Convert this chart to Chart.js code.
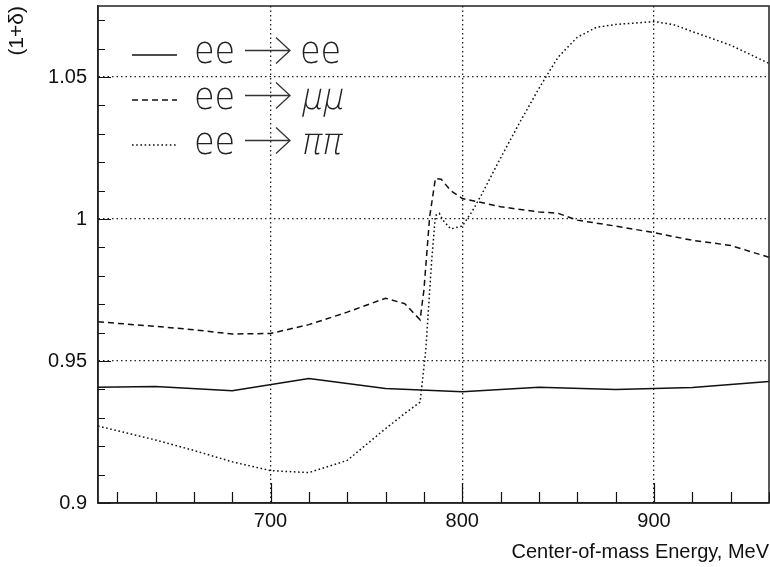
<!DOCTYPE html>
<html>
<head>
<meta charset="utf-8">
<script src="https://cdn.jsdelivr.net/npm/chart.js@4.4.1/dist/chart.umd.min.js"></script>
<style>
html,body{margin:0;padding:0;background:#fff;}
#wrap{width:770px;height:567px;}
</style>
</head>
<body>
<div id="wrap"><canvas id="c" width="770" height="567"></canvas></div>
<script>
// ---- data ----
const eeX = [610,640,680,720,760,800,840,880,920,960];
const eeY = [0.9408,0.9410,0.9395,0.9438,0.9403,0.9392,0.9408,0.9400,0.9407,0.9428];

const muX = [610,640,660,680,700,720,740,760,770,778,780,783,786,789,794,800,810,820,840,850,860,880,900,920,940,960];
const muY = [0.9638,0.9622,0.9610,0.9595,0.9597,0.9628,0.9672,0.9721,0.9702,0.9645,0.9750,1.0008,1.0143,1.0140,1.0100,1.0072,1.0058,1.0043,1.0025,1.0020,0.9996,0.9975,0.9952,0.9925,0.9907,0.9865];

const piX = [610,640,660,680,700,720,740,760,770,778,781,784,786,788,790,794,800,805,810,820,830,840,850,860,870,880,890,900,910,920,940,960];
const piY = [0.9271,0.9222,0.9185,0.9145,0.9114,0.9107,0.9150,0.9262,0.9315,0.9355,0.9540,0.9850,1.0012,1.0020,0.9995,0.9965,0.9975,1.0025,1.0085,1.0215,1.0340,1.0460,1.0570,1.0640,1.0675,1.0685,1.0690,1.0695,1.0685,1.0660,1.0612,1.0548];

const xMajor = [700,800,900];
const xTickLabels = ['700','800','900'];
const xMinor = [620,640,660,680,720,740,760,780,820,840,860,880,920,940,960];
const yMajor = [0.9,0.95,1.0,1.05];
const yTickLabels = ['0.9','0.95','1','1.05'];
const yMinor = [0.91,0.92,0.93,0.94,0.96,0.97,0.98,0.99,1.01,1.02,1.03,1.04,1.06,1.07];

const seriesNames = ['ee \u2192 ee','ee \u2192 \u03bc\u03bc','ee \u2192 \u03c0\u03c0'];
const legendLeft = ['ee','ee','ee'];
const legendRight = ['ee','\u03bc\u03bc','\u03c0\u03c0'];

const xLimits = [610, 960];
const yLimits = [0.9, 1.075];
const xTitle = 'Center-of-mass Energy, MeV';
const yTitle = '(1+\u03b4)';

const toPts = (xs, ys) => xs.map((x, i) => ({x: x, y: ys[i]}));

const dashStyles = [[], [6,4], [1.6,2.6]];

const frameAndTicks = {
  id: 'frameAndTicks',
  afterDatasetsDraw(chart) {
    const {ctx, chartArea: a, scales: {x, y}} = chart;
    ctx.save();
    ctx.strokeStyle = '#111';
    ctx.lineWidth = 1.2;
    ctx.setLineDash([]);
    ctx.beginPath();
    xMinor.forEach(v => { const px = Math.round(x.getPixelForValue(v)) + 0.5; ctx.moveTo(px, a.bottom); ctx.lineTo(px, a.bottom - 11); });
    xMajor.forEach(v => { const px = Math.round(x.getPixelForValue(v)) + 0.5; ctx.moveTo(px, a.bottom); ctx.lineTo(px, a.bottom - 20); });
    yMinor.forEach(v => { const py = Math.round(y.getPixelForValue(v)) + 0.5; ctx.moveTo(a.left, py); ctx.lineTo(a.left + 7, py); });
    yMajor.forEach(v => { const py = Math.round(y.getPixelForValue(v)) + 0.5; ctx.moveTo(a.left, py); ctx.lineTo(a.left + 13, py); });
    ctx.stroke();
    ctx.strokeStyle = '#222';
    ctx.lineWidth = 1.5;
    ctx.strokeRect(a.left, a.top, a.right - a.left, a.bottom - a.top);
    ctx.restore();
  },
  afterDraw(chart) {
    const {ctx} = chart;
    const rows = [55, 100, 145];
    const baselines = [63, 108.5, 153.5];
    ctx.save();
    for (let i = 0; i < 3; i++) {
      ctx.strokeStyle = '#111';
      ctx.lineWidth = 1.5;
      ctx.setLineDash(dashStyles[i]);
      ctx.beginPath();
      ctx.moveTo(132, rows[i]); ctx.lineTo(177, rows[i]);
      ctx.stroke();
      ctx.setLineDash([]);
      const ay = rows[i] - 4.5;
      ctx.strokeStyle = '#333';
      ctx.lineWidth = 1.3;
      ctx.beginPath();
      ctx.moveTo(245, ay); ctx.lineTo(290, ay);
      ctx.moveTo(276, ay - 13); ctx.lineTo(290, ay); ctx.lineTo(276, ay + 13);
      ctx.stroke();
      ctx.fillStyle = '#222';
      ctx.textBaseline = 'alphabetic';
      ctx.textAlign = 'left';
      ctx.font = '200 31px "DejaVu Sans"';
      ctx.save();
      ctx.translate(194, baselines[i]);
      ctx.scale(1.08, 1.2);
      ctx.fillText(legendLeft[i], 0, 0);
      ctx.restore();
      ctx.save();
      ctx.translate(300, baselines[i]);
      ctx.scale(1.08, 1.2);
      if (i > 0) ctx.transform(1, 0, -0.22, 1, 0, 0);
      ctx.fillText(legendRight[i], 0, 0);
      ctx.restore();
    }
    ctx.restore();
  }
};

new Chart(document.getElementById('c'), {
  type: 'scatter',
  data: {
    datasets: [
      {label: seriesNames[0], data: toPts(eeX, eeY)},
      {label: seriesNames[1], data: toPts(muX, muY)},
      {label: seriesNames[2], data: toPts(piX, piY)}
    ].map((d, i) => Object.assign(d, {
      showLine: true, borderColor: '#111', borderWidth: 1.5, borderDash: dashStyles[i],
      pointRadius: 0, pointHoverRadius: 0, tension: 0, fill: false
    }))
  },
  options: {
    responsive: false,
    maintainAspectRatio: false,
    devicePixelRatio: 1,
    animation: false,
    events: [],
    layout: {padding: {left: 0, top: 6, right: 1, bottom: 0}},
    plugins: {legend: {display: false}, tooltip: {enabled: false}, title: {display: false}},
    scales: {
      x: {
        type: 'linear', min: xLimits[0], max: xLimits[1],
        afterFit: s => { s.height = 64; s.paddingLeft = 0; s.paddingRight = 0; },
        afterBuildTicks: s => { s.ticks = xMajor.map(v => ({value: v})); },
        ticks: {
          padding: 6, color: '#111', font: {family: '"Liberation Sans", Arial, sans-serif', size: 20},
          maxRotation: 0, autoSkip: false,
          callback: (v) => { const k = xMajor.indexOf(v); return k >= 0 ? xTickLabels[k] : ''; }
        },
        grid: {drawTicks: false, color: '#222', lineWidth: 1.3},
        border: {display: true, color: '#222', width: 1.5, dash: [1.5, 3]},
        title: {display: true, text: xTitle, align: 'end', color: '#111',
          font: {family: '"Liberation Sans", Arial, sans-serif', size: 20}, padding: {top: 3, bottom: 3}}
      },
      y: {
        type: 'linear', min: yLimits[0], max: yLimits[1],
        afterFit: s => { s.width = 98; s.paddingTop = 0; s.paddingBottom = 0; },
        afterBuildTicks: s => { s.ticks = yMajor.map(v => ({value: v})); },
        ticks: {
          padding: 11, color: '#111', font: {family: '"Liberation Sans", Arial, sans-serif', size: 20},
          autoSkip: false,
          callback: (v) => { const k = yMajor.findIndex(t => Math.abs(t - v) < 1e-9); return k >= 0 ? yTickLabels[k] : ''; }
        },
        grid: {drawTicks: false, color: '#222', lineWidth: 1.3},
        border: {display: true, color: '#222', width: 1.5, dash: [1.5, 3]},
        title: {display: true, text: yTitle, align: 'end', color: '#111',
          font: {family: '"Liberation Sans", Arial, sans-serif', size: 21}, padding: {top: 5, bottom: 5}}
      }
    }
  },
  plugins: [frameAndTicks]
});
</script>
</body>
</html>
